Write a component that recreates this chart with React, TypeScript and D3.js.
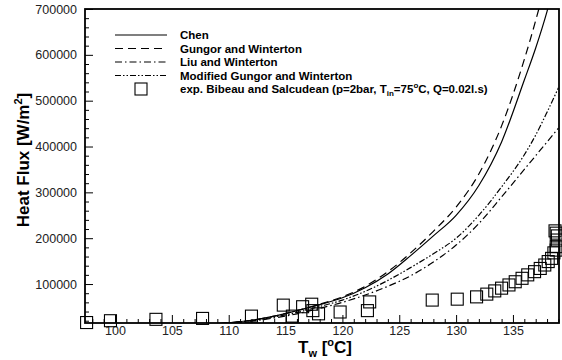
import React, { useEffect, useRef } from "react";
import * as d3 from "d3";

// model curves, wall temperature (°C) vs heat flux (W/m2)
const curveT = [108, 110, 112, 114, 116, 118, 120, 122, 124, 126, 128, 130, 132, 134, 136, 137, 138, 139];
const chenQ = [12000, 15500, 21000, 30000, 42000, 55000, 70000, 92000, 122000, 162000, 205000, 250000, 315000, 410000, 545000, 615000, 695000, 790000];
const gungorQ = [12000, 15500, 21000, 30000, 42000, 56000, 72000, 95000, 127000, 168000, 215000, 268000, 340000, 445000, 590000, 675000, 770000, 880000];
const liuQ = [12000, 15000, 19000, 26000, 35000, 47000, 60000, 76000, 95000, 118000, 148000, 185000, 232000, 290000, 350000, 380000, 410000, 440000];
const modifiedQ = [12000, 15000, 20000, 28000, 38000, 51000, 65000, 84000, 108000, 136000, 166000, 200000, 250000, 312000, 382000, 425000, 475000, 528000];

// experiment (Bibeau and Salcudean)
const expT = [97.5, 99.6, 103.6, 107.7, 112.0, 114.8, 115.6, 116.5, 117.3, 117.4, 117.9, 119.8, 122.2, 122.4,
  127.9, 130.1, 131.8, 132.7, 133.4, 134.0, 134.65, 135.2, 135.8, 136.3, 136.9, 137.4, 137.8, 138.1, 138.4,
  138.6, 138.8, 138.8, 138.9, 138.9, 138.8, 138.7];
const expQ = [16000, 20000, 23000, 25000, 30000, 54000, 30000, 50500, 56000, 42000, 35000, 39000, 42000, 61000,
  65000, 67000, 72000, 78000, 85000, 91000, 98000, 105000, 112500, 120000, 127000, 134000, 141500, 149000, 156000,
  168000, 174000, 181500, 196000, 205000, 211000, 216000];

const xTicks = [100, 105, 110, 115, 120, 125, 130, 135];
const yTicks = [100000, 200000, 300000, 400000, 500000, 600000, 700000];
const curveNames = ["Chen", "Gungor and Winterton", "Liu and Winterton", "Modified Gungor and Winterton"];

const W = 562;
const H = 360;
const margin = { top: 9, right: 3, bottom: 37, left: 85 };
const innerW = W - margin.left - margin.right;
const innerH = H - margin.top - margin.bottom;
const font = "'Liberation Sans', Arial, sans-serif";
const dashes = ["none", "8,5", "7,3,1.5,3", "6,2,1.5,2,1.5,2"];

export default function App() {
  const gRef = useRef<SVGGElement>(null);

  useEffect(() => {
    const g = d3.select(gRef.current);
    g.selectAll("*").remove();

    const x = d3.scaleLinear().domain([97.36, 139.05]).range([0, innerW]);
    const y = d3.scaleLinear().domain([15000, 700000]).range([innerH, 0]);

    g.append("clipPath").attr("id", "plot-clip")
      .append("rect").attr("width", innerW).attr("height", innerH);

    // minor ticks first
    const xMinor = d3.range(98, 140).filter(t => t % 5 !== 0);
    const yMinor = d3.range(20000, 700001, 20000).filter(v => v % 100000 !== 0);

    g.append("g").attr("transform", "translate(0," + innerH + ")")
      .call(d3.axisBottom(x).tickValues(xMinor).tickSizeInner(-4).tickSizeOuter(0).tickFormat(() => ""))
      .call(a => a.select(".domain").remove());
    g.append("g")
      .call(d3.axisLeft(y).tickValues(yMinor).tickSizeInner(-4).tickSizeOuter(0).tickFormat(() => ""))
      .call(a => a.select(".domain").remove());

    const xAxis = g.append("g").attr("transform", "translate(0," + innerH + ")")
      .call(d3.axisBottom(x).tickValues(xTicks).tickSizeInner(-8).tickSizeOuter(0).tickPadding(3).tickFormat(d3.format("d")));
    xAxis.select(".domain").remove();
    xAxis.selectAll("text").attr("font-size", 12.5).attr("font-family", font).attr("fill", "#222");

    const yAxis = g.append("g")
      .call(d3.axisLeft(y).tickValues(yTicks).tickSizeInner(-8).tickSizeOuter(0).tickPadding(8).tickFormat(d3.format("d")));
    yAxis.select(".domain").remove();
    yAxis.selectAll("text").attr("font-size", 12.5).attr("font-family", font).attr("fill", "#222");

    // model curves
    const line = d3.line<number>()
      .x((d, i) => x(curveT[i]))
      .y(d => y(d))
      .curve(d3.curveMonotoneX);

    const series = [chenQ, gungorQ, liuQ, modifiedQ];
    g.append("g").attr("clip-path", "url(#plot-clip)")
      .selectAll("path")
      .data(series)
      .join("path")
      .attr("d", d => line(d))
      .attr("fill", "none")
      .attr("stroke", "#000")
      .attr("stroke-width", 1.2)
      .attr("stroke-dasharray", (d, i) => dashes[i]);

    // experimental squares
    g.append("g")
      .selectAll("rect")
      .data(expT)
      .join("rect")
      .attr("x", (d, i) => x(d) - 6)
      .attr("y", (d, i) => y(expQ[i]) - 6)
      .attr("width", 12)
      .attr("height", 12)
      .attr("fill", "none")
      .attr("stroke", "#000")
      .attr("stroke-width", 1.1);

    // frame
    g.append("rect")
      .attr("width", innerW)
      .attr("height", innerH)
      .attr("fill", "none")
      .attr("stroke", "#000")
      .attr("stroke-width", 1.8);

    // legend
    const leg = g.append("g").attr("transform", "translate(30,26)");
    leg.selectAll("line")
      .data(curveNames)
      .join("line")
      .attr("x1", 0)
      .attr("x2", 52)
      .attr("y1", (d, i) => i * 13.5)
      .attr("y2", (d, i) => i * 13.5)
      .attr("stroke", "#000")
      .attr("stroke-width", 1.2)
      .attr("stroke-dasharray", (d, i) => dashes[i]);
    leg.selectAll("text.name")
      .data(curveNames)
      .join("text")
      .attr("class", "name")
      .attr("x", 65)
      .attr("y", (d, i) => i * 13.5 + 4)
      .attr("font-family", font)
      .attr("font-size", 11.5)
      .attr("font-weight", "bold")
      .text(d => d);
    leg.append("rect")
      .attr("x", 20)
      .attr("y", 4 * 13.5 - 6)
      .attr("width", 12)
      .attr("height", 12)
      .attr("fill", "none")
      .attr("stroke", "#000")
      .attr("stroke-width", 1.1);
  }, []);

  return (
    <svg width={W} height={H} style={{ position: "absolute", left: 0, top: 0, background: "#fff" }}>
      <g ref={gRef} transform={`translate(${margin.left},${margin.top})`} />
      <text x={180} y={93} fontFamily={font} fontSize={11.5} fontWeight="bold">
        exp. Bibeau and Salcudean (p=2bar, T
        <tspan dy={3} fontSize={8}>in</tspan>
        <tspan dy={-3}>=75</tspan>
        <tspan dy={-5} fontSize={8}>o</tspan>
        <tspan dy={5}>C, Q=0.02l.s)</tspan>
      </text>
      <text transform="translate(29,160) rotate(-90)" textAnchor="middle" fontFamily={font} fontSize={17} fontWeight="bold">
        Heat Flux [W/m<tspan dy={-7} fontSize={11}>2</tspan><tspan dy={7}>]</tspan>
      </text>
      <text x={325} y={353} textAnchor="middle" fontFamily={font} fontSize={17} fontWeight="bold">
        T<tspan dy={4} fontSize={11}>w</tspan><tspan dy={-4}> [</tspan>
        <tspan dy={-7} fontSize={11}>o</tspan><tspan dy={7}>C]</tspan>
      </text>
    </svg>
  );
}
